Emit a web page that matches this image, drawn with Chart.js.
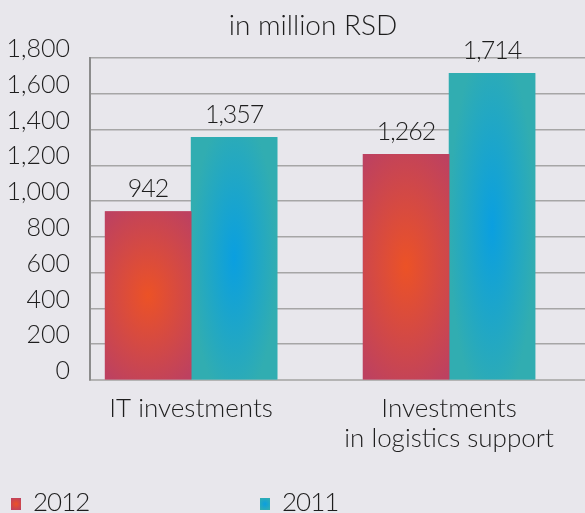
<!DOCTYPE html>
<html>
<head>
<meta charset="utf-8">
<script src="https://cdn.jsdelivr.net/npm/chart.js@4"></script>
<style>
  html, body { margin: 0; padding: 0; background: #e8e7ec; }
  #wrap { position: relative; width: 585px; height: 513px; font-family: Lato, "Open Sans", sans-serif; font-weight: 300; color: #1e1e1e; }
  #title { position: absolute; left: 0; width: 626px; top: 10px; text-align: center; font-size: 28px; line-height: 28px; }
  .leg { position: absolute; top: 488px; font-size: 26px; line-height: 26px; letter-spacing: -1px; }
  .leg i { position: absolute; left: -22px; top: 10px; width: 10px; height: 12px; }
</style>
</head>
<body>
<div id="wrap">
  <canvas id="investChart"></canvas>
  <div id="title">in million RSD</div>
  <div id="legend"></div>
</div>
<script>
// chart data
const categories = [['IT investments'], ['Investments', 'in logistics support']];
const seriesNames = ['2012', '2011'];
const values2012 = [942, 1262];
const values2011 = [1357, 1714];
const yMax = 1800;
const yStep = 200;

const solidColors = ['#bd4160', '#31adb1'];
const glow = [
  { c0: '#ec5226', c1: '#bd4160', rx: 0.78, ry: 0.6 },
  { c0: '#0a9fe0', c1: '#31adb1', rx: 0.5, ry: 0.6 }
];

// repaint each bar with its radial glow, using the bar element's own geometry
const barGlow = {
  id: 'barGlow',
  afterDatasetDraw(chart, args) {
    const ctx = chart.ctx;
    const g = glow[args.index];
    args.meta.data.forEach(bar => {
      const { x, y, base, width } = bar.getProps(['x', 'y', 'base', 'width'], true);
      const top = Math.min(y, base), h = Math.abs(base - y);
      const rx = width * g.rx, ry = h * g.ry;
      ctx.save();
      ctx.beginPath();
      ctx.rect(x - width / 2, top, width, h);
      ctx.clip();
      ctx.translate(x, top + h / 2);
      ctx.scale(1, ry / rx);
      const grad = ctx.createRadialGradient(0, 0, 0, 0, 0, rx);
      grad.addColorStop(0, g.c0);
      grad.addColorStop(1, g.c1);
      ctx.fillStyle = grad;
      ctx.fillRect(-rx * 4, -rx * 4, rx * 8, rx * 8);
      ctx.restore();
    });
  }
};

// value labels above the bars
const valueLabels = {
  id: 'valueLabels',
  afterDatasetsDraw(chart) {
    const ctx = chart.ctx;
    ctx.save();
    ctx.font = '300 25px Lato, "Open Sans", sans-serif';
    ctx.letterSpacing = '-1px';
    ctx.fillStyle = '#1e1e1e';
    ctx.textAlign = 'center';
    ctx.textBaseline = 'alphabetic';
    chart.data.datasets.forEach((ds, di) => {
      chart.getDatasetMeta(di).data.forEach((bar, i) => {
        ctx.fillText(ds.data[i].y.toLocaleString('en-US'), bar.x, bar.y - 14);
      });
    });
    ctx.restore();
  }
};

const ctx = document.getElementById('investChart').getContext('2d');
new Chart(ctx, {
  type: 'bar',
  data: {
    datasets: [
      { label: seriesNames[0], data: values2012.map((v, i) => ({ x: i, y: v })), backgroundColor: solidColors[0] },
      { label: seriesNames[1], data: values2011.map((v, i) => ({ x: i, y: v })), backgroundColor: solidColors[1] }
    ]
  },
  options: {
    responsive: true,
    maintainAspectRatio: false,
    animation: false,
    layout: { padding: { top: 58, right: 0, left: 0, bottom: 0 } },
    barThickness: 86,
    plugins: {
      legend: { display: false },
      tooltip: { enabled: false }
    },
    scales: {
      x: {
        type: 'linear',
        offset: false,
        min: -0.392,
        max: 1.527,
        afterBuildTicks: s => { s.ticks = categories.map((c, i) => ({ value: i })); },
        afterFit: s => { s.height = 133; },
        grid: { display: false, offset: false },
        border: { color: '#b4b4b4', width: 2 },
        ticks: {
          padding: 6,
          color: '#1e1e1e',
          font: { family: 'Lato, "Open Sans", sans-serif', weight: '300', size: 26, lineHeight: 1.15 },
          maxRotation: 0,
          autoSkip: false,
          callback: v => categories[v]
        }
      },
      y: {
        min: 0,
        max: yMax,
        afterFit: s => { s.width = 90; },
        grid: { color: '#a6a6a6', lineWidth: 1.5, drawTicks: false },
        border: { color: '#8c8c8c', width: 2 },
        ticks: {
          stepSize: yStep,
          padding: 20,
          labelOffset: -9,
          color: '#1e1e1e',
          font: { family: 'Lato, "Open Sans", sans-serif', weight: '300', size: 25 }
        }
      }
    }
  },
  plugins: [barGlow, valueLabels]
});

// legend
const legendLeft = [33, 282];
const legendSwatch = [
  'radial-gradient(circle, #ec5226 0%, #bd4160 90%)',
  'radial-gradient(circle, #0a9fe0 0%, #31adb1 90%)'
];
document.getElementById('legend').innerHTML = seriesNames.map((n, i) =>
  `<div class="leg" style="left:${legendLeft[i]}px"><i style="background:${legendSwatch[i]}"></i>${n}</div>`
).join('');
</script>
</body>
</html>
